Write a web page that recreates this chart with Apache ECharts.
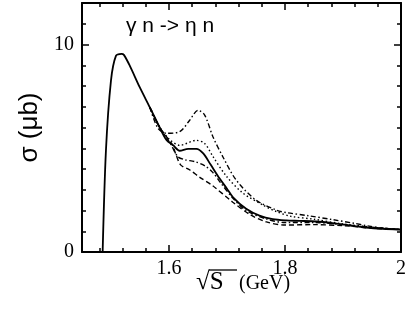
<!DOCTYPE html>
<html>
<head>
<meta charset="utf-8">
<title>gamma n -> eta n</title>
<script src="https://cdn.jsdelivr.net/npm/echarts@6/dist/echarts.min.js"></script>
<style>
	html, body { margin: 0; padding: 0; background: #fff; }
	#chart { width: 409px; height: 325px; }
</style>
</head>
<body>
<div id="chart"></div>
<script>
	// curves: [sqrt(s) in GeV, sigma in microbarn]
	const solidCurve = [
		[1.4856, 0], [1.4913, 4.9], [1.4999, 8.25], [1.5085, 9.45], [1.5182, 9.55], [1.5222, 9.5],
		[1.5325, 8.97], [1.5497, 7.93], [1.567, 6.97], [1.584, 6.0], [1.5956, 5.4], [1.607, 5.15],
		[1.6185, 4.88], [1.633, 4.97], [1.6472, 4.97], [1.659, 4.75], [1.672, 4.2], [1.687, 3.55],
		[1.70, 3.05], [1.71, 2.65], [1.733, 2.08], [1.756, 1.75], [1.779, 1.58], [1.802, 1.52],
		[1.825, 1.5], [1.854, 1.47], [1.882, 1.39], [1.911, 1.28], [1.94, 1.18], [1.968, 1.12], [2.0, 1.08]
	];
	const dashDotUpper = [
		[1.567, 6.97], [1.5812, 5.95], [1.5957, 5.72], [1.6185, 5.8], [1.6357, 6.35], [1.65, 6.83],
		[1.6615, 6.6], [1.6758, 5.55], [1.693, 4.58], [1.716, 3.46], [1.75, 2.5], [1.785, 2.02],
		[1.802, 1.9], [1.84, 1.75], [1.882, 1.56], [1.92, 1.38], [1.94, 1.27], [1.97, 1.15], [2.0, 1.08]
	];
	const dottedCurve = [
		[1.567, 6.97], [1.584, 6.0], [1.6, 5.45], [1.6185, 5.14], [1.6472, 5.38], [1.6615, 5.23],
		[1.6758, 4.6], [1.699, 3.65], [1.727, 2.85], [1.762, 2.26], [1.785, 1.95], [1.81, 1.72],
		[1.85, 1.58], [1.9, 1.35], [1.95, 1.2], [2.0, 1.08]
	];
	const dashDotLower = [
		[1.567, 6.97], [1.584, 6.0], [1.603, 5.2], [1.615, 4.6], [1.627, 4.45], [1.645, 4.35],
		[1.662, 4.15], [1.675, 3.85], [1.69, 3.3], [1.71, 2.6], [1.733, 2.0], [1.767, 1.6],
		[1.8, 1.42], [1.85, 1.42], [1.9, 1.32], [1.95, 1.18], [2.0, 1.08]
	];
	const dashedCurve = [
		[1.567, 6.97], [1.584, 6.0], [1.605, 5.2], [1.612, 4.7], [1.62, 4.2], [1.636, 3.95],
		[1.653, 3.6], [1.675, 3.2], [1.71, 2.4], [1.74, 1.8], [1.768, 1.45], [1.8, 1.3],
		[1.85, 1.32], [1.9, 1.27], [1.95, 1.15], [2.0, 1.08]
	];

	// ticks
	const xMajorTicks = [1.6, 1.8, 2.0];
	const xMinorTicks = [1.48, 1.52, 1.56, 1.64, 1.68, 1.72, 1.76, 1.84, 1.88, 1.92, 1.96];
	const yMajorTicks = [0, 10];
	const yMinorTicks = [1, 2, 3, 4, 5, 6, 7, 8, 9, 11];

	const titleText = 'γ n -> η n';
	const yName = 'σ (μb)';

	let chart = echarts.init(document.getElementById('chart'), null, { renderer: 'canvas' });

	const serif = 'Liberation Serif';
	const sans = 'Liberation Sans';

	function makeAxis(pos, min, max, ticks, len, isMain) {
		return {
			type: 'value',
			position: pos,
			min: min,
			max: max,
			axisLine: { show: isMain, onZero: false, lineStyle: { color: '#000', width: 2 } },
			axisTick: { show: true, inside: true, length: len, customValues: ticks, lineStyle: { color: '#000', width: 1.5 } },
			axisLabel: { show: false },
			splitLine: { show: false }
		};
	}

	let xBottom = makeAxis('bottom', 1.45, 2.0, xMajorTicks, 7, true);
	xBottom.axisLabel = {
		show: true, customValues: xMajorTicks, color: '#000', fontFamily: serif, fontSize: 20, margin: 7
	};
	let yLeft = makeAxis('left', 0, 12, yMajorTicks, 7, true);
	yLeft.axisLabel = {
		show: true, customValues: yMajorTicks, color: '#000', fontFamily: serif, fontSize: 20, margin: 8
	};
	yLeft.name = yName;
	yLeft.nameLocation = 'middle';
	yLeft.nameRotate = 90;
	yLeft.nameGap = 36;
	yLeft.nameTextStyle = { color: '#000', fontFamily: sans, fontSize: 26 };

	const lineBase = { color: '#000', width: 1.4 };

	let option = {
		animation: false,
		backgroundColor: '#fff',
		title: {
			text: titleText,
			left: 121,
			top: 11,
			textStyle: { color: '#000', fontFamily: sans, fontWeight: 'normal', fontSize: 21 }
		},
		grid: { left: 82, right: 7, top: 3, bottom: 73 },
		xAxis: [
			xBottom,
			makeAxis('bottom', 1.45, 2.0, xMinorTicks, 4, false),
			makeAxis('top', 1.45, 2.0, xMajorTicks, 7, true),
			makeAxis('top', 1.45, 2.0, xMinorTicks, 4, false)
		],
		yAxis: [
			yLeft,
			makeAxis('left', 0, 12, yMinorTicks, 4, false),
			makeAxis('right', 0, 12, yMajorTicks, 7, true),
			makeAxis('right', 0, 12, yMinorTicks, 4, false)
		],
		series: [
			{ name: 'dashed', type: 'line', data: dashedCurve, symbol: 'none', smooth: 0.3,
				lineStyle: Object.assign({}, lineBase, { type: [5, 3] }) },
			{ name: 'dash-dot lower', type: 'line', data: dashDotLower, symbol: 'none', smooth: 0.3,
				lineStyle: Object.assign({}, lineBase, { type: [5, 2.5, 1.5, 2.5] }) },
			{ name: 'dotted', type: 'line', data: dottedCurve, symbol: 'none', smooth: 0.3,
				lineStyle: Object.assign({}, lineBase, { type: [1.5, 2.5] }) },
			{ name: 'dash-dot upper', type: 'line', data: dashDotUpper, symbol: 'none', smooth: 0.3,
				lineStyle: Object.assign({}, lineBase, { type: [5, 2.5, 1.5, 2.5] }) },
			{ name: 'solid', type: 'line', data: solidCurve, symbol: 'none', smooth: 0.3,
				lineStyle: { color: '#000', width: 1.8 } }
		],
		graphic: [
			{
				type: 'text',
				left: 196,
				top: 270,
				style: { text: '√S', fill: '#000', font: '25px "Liberation Serif"' }
			},
			{
				type: 'line',
				shape: { x1: 209, y1: 270, x2: 237, y2: 270 },
				style: { stroke: '#000', lineWidth: 1.3 }
			},
			{
				type: 'text',
				left: 239,
				top: 274,
				style: { text: '(GeV)', fill: '#000', font: '20px "Liberation Serif"' }
			}
		]
	};

	chart.setOption(option);
</script>
</body>
</html>
